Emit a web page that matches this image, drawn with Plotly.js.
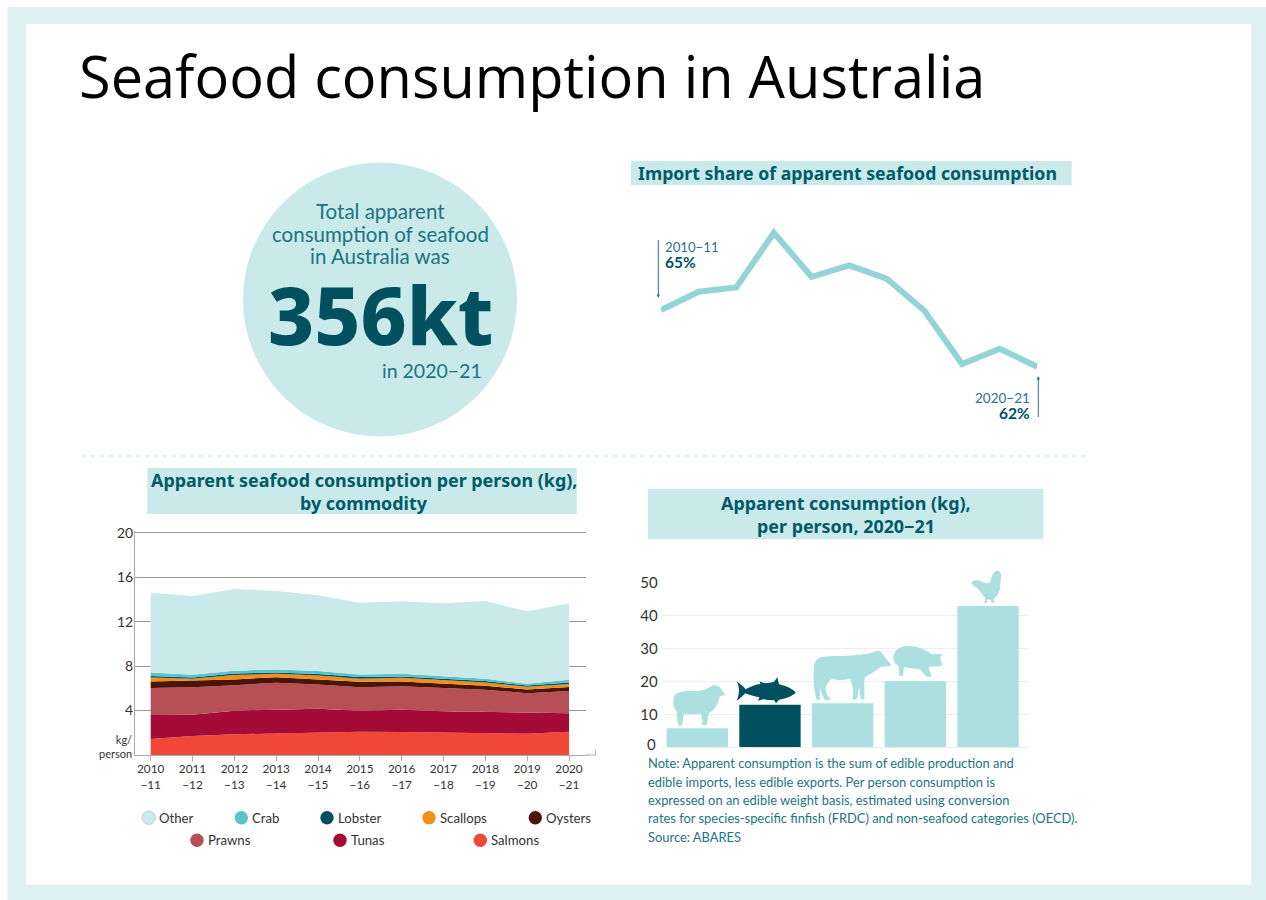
<!DOCTYPE html>
<html>
<head>
<meta charset="utf-8">
<title>Seafood consumption in Australia</title>
<script src="https://cdn.plot.ly/plotly-3.0.1.min.js"></script>
<style>html,body{margin:0;padding:0;background:#fff}#chart{width:1266px;height:900px}</style>
</head>
<body>
<div id="chart"></div>
<script>
// Per person consumption by commodity, kg
const years = ['2010<br>−11','2011<br>−12','2012<br>−13','2013<br>−14','2014<br>−15','2015<br>−16','2016<br>−17','2017<br>−18','2018<br>−19','2019<br>−20','2020<br>−21'];
const salmons  = [1.44,1.71,1.86,1.92,2.04,2.10,2.07,2.01,1.95,1.92,2.10];
const tunas    = [2.16,1.92,2.13,2.19,2.13,1.89,2.01,1.92,1.92,1.86,1.65];
const prawns   = [2.43,2.46,2.28,2.39,2.18,2.10,2.10,2.13,2.01,1.77,2.01];
const oysters  = [0.59,0.63,0.53,0.50,0.48,0.51,0.44,0.38,0.35,0.35,0.35];
const scallops = [0.36,0.14,0.39,0.31,0.33,0.26,0.33,0.30,0.30,0.24,0.27];
const lobster  = [0.12,0.12,0.15,0.12,0.12,0.15,0.12,0.12,0.12,0.12,0.15];
const crab     = [0.33,0.24,0.24,0.27,0.27,0.24,0.24,0.21,0.21,0.15,0.24];
const other    = [7.17,7.08,7.35,7.05,6.81,6.45,6.51,6.57,6.99,6.51,6.87];

// Import share of apparent consumption, per cent
const importShare = [65,65.97,66.2,69.09,66.76,67.36,66.66,64.96,62.14,62.95,62];

// Consumption per person by meat type, 2020-21, kg
const meats = ['Lamb','Seafood','Beef','Pork','Chicken'];
const meatKg = [5.8,12.9,13.4,20.1,42.9];

const TEAL='#00505f', TEXT='#1c7482', PALE='#c9e9eb', BAR='#abdfe0', FRAME='#dcf1f0', GREY='#333333';
const BODY='Lato, "Noto Sans", sans-serif', HEAD='"Noto Sans", sans-serif';
const W=1266, H=900;
const X=p=>p/W, Y=p=>1-p/H;
const domX=(a,b)=>[X(a),X(b)], domY=(top,bot)=>[Y(bot),Y(top)];

function rect(x0,y0,x1,y1,fill){return {type:'rect',xref:'paper',yref:'paper',x0:X(x0),x1:X(x1),y0:Y(y0),y1:Y(y1),fillcolor:fill,line:{width:0},layer:'below'};}
function circle(cx,cy,r,fill,edge){return {type:'circle',xref:'paper',yref:'paper',x0:X(cx-r),x1:X(cx+r),y0:Y(cy+r),y1:Y(cy-r),fillcolor:fill,line:edge?{color:edge,width:1}:{width:0}};}
function line(x0,y0,x1,y1,color,width,dash){return {type:'line',xref:'paper',yref:'paper',x0:X(x0),x1:X(x1),y0:Y(y0),y1:Y(y1),line:{color:color,width:width,dash:dash||'solid'}};}
function label(text,x,y,opts){opts=opts||{};return {text:text,xref:'paper',yref:'paper',x:X(x),y:Y(y),xanchor:opts.anchor||'left',yanchor:'middle',showarrow:false,align:opts.anchor==='right'?'right':(opts.anchor==='center'?'center':'left'),borderpad:0,
  font:{family:opts.family||BODY,size:opts.size||14,color:opts.color||TEXT,weight:opts.weight||400}};}

// Outlines are written in a 3x grid anchored at the bar panel's corner, then mapped to the page
function icon(d,fill){
  const s=d.replace(/(-?[\d.]+) (-?[\d.]+)/g,(m,a,b)=>X(630+a/3).toFixed(5)+','+Y(560+b/3).toFixed(5));
  return {type:'path',xref:'paper',yref:'paper',path:s,fillcolor:fill,line:{width:0}};
}
const sheep='M132 410 C135 398 155 393 180 393 C205 394 225 392 240 380 C255 372 272 376 276 392 L286 403 C280 409 272 407 268 412 C265 432 255 452 237 458 C232 475 233 490 228 496 L216 494 C218 482 217 470 212 460 C195 466 175 461 162 462 C158 475 160 490 155 497 L146 497 C140 485 143 470 140 454 C128 441 128 425 132 410 Z';
const tuna='M320 364 C330 372 340 378 347 388 C370 375 385 372 392 372 L388 364 L405 370 C415 368 425 368 432 365 L442 352 L447 373 C470 378 490 388 497 398 C488 408 465 416 447 419 L438 430 L432 420 C420 421 410 420 400 418 L384 422 L388 412 C372 410 358 405 346 400 C338 408 330 416 320 422 C328 405 330 382 320 364 Z';
const cow='M552 330 C550 305 560 293 580 290 C620 288 680 287 700 283 C715 280 730 280 735 274 L750 272 C760 285 775 305 785 315 C775 322 760 318 750 322 C735 335 720 342 705 352 C700 375 705 395 703 418 L692 418 L688 380 L680 420 L668 418 C672 395 668 375 660 356 C640 360 625 362 605 356 C590 366 582 385 592 405 L604 420 L585 420 C575 405 568 385 570 366 L570 420 L560 420 C555 400 548 370 552 330 Z';
const pig='M790 295 C790 270 810 258 835 258 C860 258 885 268 905 282 L938 282 L930 292 L938 316 C925 322 910 318 895 322 L905 350 L890 350 L870 328 C855 325 835 325 822 322 L818 348 L808 348 C808 335 808 325 805 318 C795 312 790 305 790 295 Z';
const hen='M1025 68 C1032 56 1045 60 1058 66 C1070 72 1078 72 1082 62 C1085 50 1088 38 1098 33 C1106 30 1112 36 1113 44 C1113 55 1110 70 1110 85 C1108 100 1098 112 1090 118 L1092 124 L1100 126 L1085 128 L1082 120 L1072 118 L1072 128 L1060 128 L1066 122 L1065 112 C1055 103 1048 90 1040 82 C1032 80 1026 75 1025 68 Z';

// Stacked area panel
const stackNames=['Salmons','Tunas','Prawns','Oysters','Scallops','Lobster','Crab','Other'];
const stackValues=[salmons,tunas,prawns,oysters,scallops,lobster,crab,other];
const stackColors=['#f04737','#a50b37','#b64f56','#4a1505','#f18e1c','#00515f','#5bc3c8','#c9e9eb'];
const traces=stackNames.map((n,i)=>({type:'scatter',mode:'lines',name:n,x:years,y:stackValues[i],stackgroup:'kg',
  line:{width:0},fillcolor:stackColors[i],xaxis:'x',yaxis:'y',hoverinfo:'x+y+name'}));

traces.push({type:'scatter',mode:'lines',name:'Import share',x:years,y:importShare,xaxis:'x2',yaxis:'y2',
  line:{color:'#93d5d7',width:6},cliponaxis:false});

traces.push({type:'bar',name:'Per person',x:meats,y:meatKg,xaxis:'x3',yaxis:'y3',
  marker:{color:meats.map(m=>m==='Seafood'?TEAL:BAR),line:{width:0}}});

// Legend laid out by hand in two rows
const legendRow1=['Other','Crab','Lobster','Scallops','Oysters'];
const legendRow1X=[148.7,241.3,327,429,535.3];
const legendRow2=['Prawns','Tunas','Salmons'];
const legendRow2X=[197,340,480.3];
const colorOf=n=>stackColors[stackNames.indexOf(n)];

const shapes=[
  rect(7.5,7,W,H,FRAME),
  rect(26,24,1251,885,'#ffffff'),
  Object.assign(circle(380,299.5,137,PALE),{layer:'below'}),
  rect(631,161,1071.7,185,PALE),
  rect(147.3,468,576.7,514,PALE),
  rect(648,488.7,1043.3,539.3,PALE),
  line(82,456,1090,456,'#bfe6e6',1,'4px,5px'),
  // import share call-out arrows
  line(658.3,240,658.3,296,'#2b7482',1),
  {type:'path',xref:'paper',yref:'paper',path:`M${X(656.6)},${Y(294.5)} L${X(660)},${Y(294.5)} L${X(658.3)},${Y(298)} Z`,fillcolor:'#2b7482',line:{width:0}},
  line(1038.3,378,1038.3,417,'#2b7482',1),
  {type:'path',xref:'paper',yref:'paper',path:`M${X(1036.6)},${Y(379.5)} L${X(1040)},${Y(379.5)} L${X(1038.3)},${Y(376)} Z`,fillcolor:'#2b7482',line:{width:0}},
  // baseline run-out past the last gridline
  {type:'path',xref:'paper',yref:'paper',path:`M${X(586)},${Y(755)} L${X(595.7)},${Y(755)} L${X(595.7)},${Y(750)}`,line:{color:'#aaaaaa',width:1}},
  icon(sheep,BAR),icon(tuna,TEAL),icon(cow,BAR),icon(pig,BAR),icon(hen,BAR)
];
legendRow1.forEach((n,i)=>shapes.push(circle(legendRow1X[i],817.7,6.7,colorOf(n),n==='Other'?'#bcd4d6':null)));
legendRow2.forEach((n,i)=>shapes.push(circle(legendRow2X[i],840.3,6.7,colorOf(n))));

const noteLines=[
 'Note: Apparent consumption is the sum of edible production and',
 'edible imports, less edible exports. Per person consumption is',
 'expressed on an edible weight basis, estimated using conversion',
 'rates for species-specific finfish (FRDC) and non-seafood categories (OECD).',
 'Source: ABARES'];

const annotations=[
  label('Seafood consumption in Australia',78,75,{family:'"Open Sans", sans-serif',size:57.7,color:'#000000',weight:400}),
  label('Total apparent',380,211,{anchor:'center',size:20.5}),
  label('consumption of seafood',380,234,{anchor:'center',size:20.5}),
  label('in Australia was',380,256.5,{anchor:'center',size:20.5}),
  label('356kt',380.5,313.5,{anchor:'center',family:HEAD,size:80,color:TEAL,weight:800}),
  label('in 2020−21',483,370.5,{anchor:'right',size:19.5}),
  label('Import share of apparent seafood consumption',847.5,173,{anchor:'center',family:HEAD,size:17.7,color:'#005a68',weight:700}),
  label('Apparent seafood consumption per person (kg),',364,480,{anchor:'center',family:HEAD,size:17.9,color:'#005a68',weight:700}),
  label('by commodity',364,502.5,{anchor:'center',family:HEAD,size:17.9,color:'#005a68',weight:700}),
  label('Apparent consumption (kg),',845.5,503,{anchor:'center',family:HEAD,size:17.9,color:'#005a68',weight:700}),
  label('per person, 2020−21',845.5,525.5,{anchor:'center',family:HEAD,size:17.9,color:'#005a68',weight:700}),
  label('2010−11',663.5,247,{size:13.2,color:'#2b7482'}),
  label('65%',663.5,262,{size:15.5,color:TEAL,weight:700}),
  label('2020−21',1031,398,{anchor:'right',size:13.5,color:'#2b7482'}),
  label('62%',1031,413,{anchor:'right',size:15.5,color:TEAL,weight:700}),
  label('kg/<br>person',133,746.5,{anchor:'right',size:11,color:GREY}),
  label('0',656.5,744,{anchor:'right',size:15,color:GREY})
];
legendRow1.forEach((n,i)=>annotations.push(label(n,legendRow1X[i]+9.6,817.7,{size:13.2,color:GREY})));
legendRow2.forEach((n,i)=>annotations.push(label(n,legendRow2X[i]+9.6,840.3,{size:13.2,color:GREY})));
noteLines.forEach((t,i)=>annotations.push(label(t,646.7,763.3+i*18.35,{size:12.9})));

const layout={
  width:W,height:H,margin:{l:0,r:0,t:0,b:0},paper_bgcolor:'#ffffff',plot_bgcolor:'rgba(0,0,0,0)',showlegend:false,
  font:{family:BODY,color:GREY},
  xaxis:{domain:domX(135,586),type:'category',range:[-0.375,10.406],tickmode:'array',tickvals:years,
    ticks:'outside',ticklen:5,tickcolor:'#aaaaaa',showgrid:false,showline:true,linecolor:'#aaaaaa',linewidth:1,
    tickangle:0,tickfont:{size:11.8,color:GREY,family:BODY},ticklabelstandoff:-2,zeroline:false,fixedrange:true},
  yaxis:{domain:domY(531,755),range:[0,20.15],tickmode:'array',tickvals:[4,8,12,16,20],ticks:'',
    gridcolor:'#999999',gridwidth:1,showline:true,linecolor:'#aaaaaa',linewidth:1,zeroline:false,
    tickfont:{size:14,color:GREY,family:BODY},ticklabelstandoff:-2,fixedrange:true},
  xaxis2:{domain:domX(661,1037.3),type:'category',range:[0,10],visible:false,fixedrange:true,anchor:'y2'},
  yaxis2:{domain:domY(215.6,404.5),range:[60,70],visible:false,fixedrange:true,anchor:'x2'},
  xaxis3:{domain:domX(661.7,1028),type:'category',range:[-0.49,4.55],showticklabels:false,ticks:'',showgrid:false,
    showline:false,zeroline:false,fixedrange:true,anchor:'y3'},
  yaxis3:{domain:domY(582.7,747.3),range:[0,50],tickmode:'array',tickvals:[10,20,30,40,50],ticks:'',
    gridcolor:'#eeeeee',gridwidth:1,zeroline:true,zerolinecolor:'#eeeeee',showline:false,
    tickfont:{size:15,color:GREY,family:BODY},ticklabelstandoff:3,fixedrange:true,anchor:'x3'},
  bargap:0.156,
  shapes:shapes,annotations:annotations
};
Plotly.newPlot('chart',traces,layout,{displayModeBar:false,responsive:false});
</script>
</body>
</html>
